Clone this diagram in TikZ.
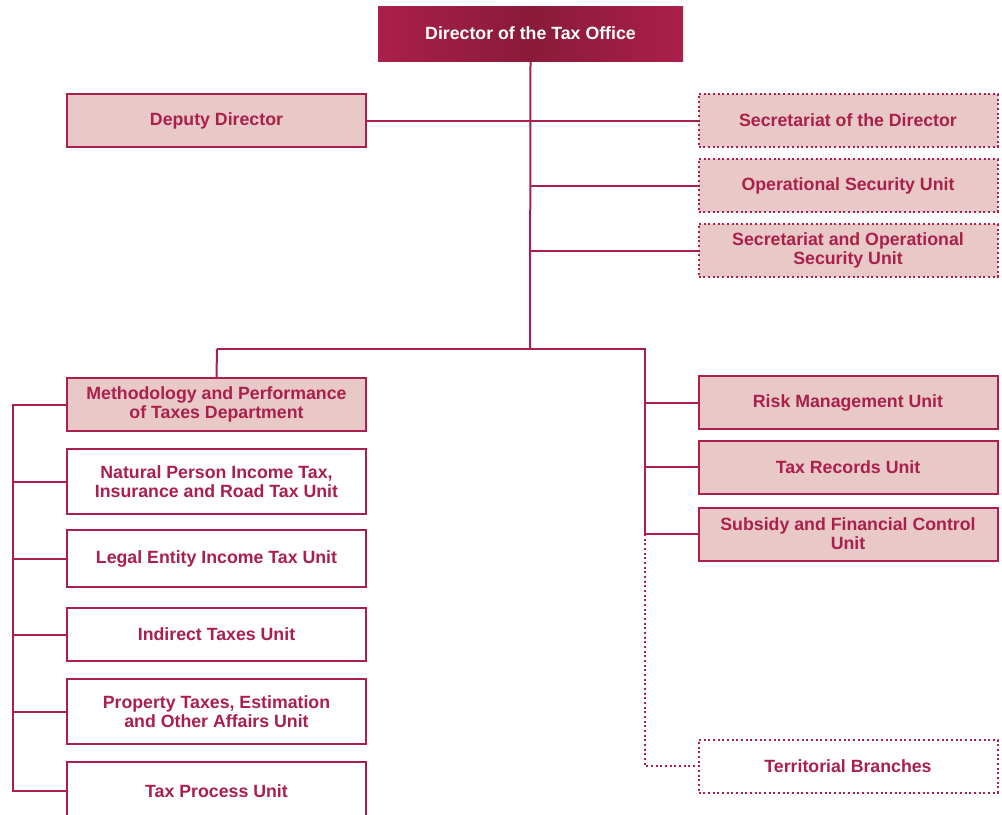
\documentclass[tikz,border=0pt]{standalone}
\usepackage{fontspec}
\setmainfont{Liberation Sans}
\definecolor{crim}{HTML}{AA1F4B}
\definecolor{crimdark}{HTML}{8A1A3A}
\definecolor{pinkfill}{HTML}{E9C9C8}
\begin{document}
\begin{tikzpicture}[x=0.75pt,y=-0.75pt,
  box/.style={draw=crim,line width=1.5pt,minimum width=299*0.75pt,minimum height=53*0.75pt,
    align=center,font=\bfseries\fontsize{13.3}{14.4}\selectfont,text=crim,inner sep=0pt},
  pinkbox/.style={box,fill=pinkfill},
  dotbox/.style={box,dotted,line width=1.5pt},
  conn/.style={draw=crim,line width=1.5pt},
  dconn/.style={draw=crim,line width=1.5pt,dotted}]
\clip (0,0) rectangle (1002,814);
\fill[white] (0,0) rectangle (1002,814);
% director
\node[minimum width=305*0.75pt,minimum height=55*0.75pt,inner sep=0pt,
  left color=crim,right color=crim,middle color=crimdark,text=white,
  font=\bfseries\fontsize{13.3}{14.4}\selectfont] (dir) at (530.5,33.5) {Director of the Tax Office};
\node[pinkbox] (dep) at (216.5,120.5) {Deputy Director};
\node[dotbox,fill=pinkfill] (sec) at (848,120.5) {Secretariat of the Director};
\node[dotbox,fill=pinkfill] (ops) at (848,185.5) {Operational Security Unit};
\node[dotbox,fill=pinkfill] (sos) at (848,250.5) {Secretariat and Operational\\Security Unit};
\node[pinkbox] (meth) at (216.5,404.5) {Methodology and Performance\\of Taxes Department};
\node[box,minimum height=65*0.75pt] (nat) at (216.5,481.5) {Natural Person Income Tax,\\Insurance and Road Tax Unit};
\node[box,minimum height=57*0.75pt] (leg) at (216.5,558.5) {Legal Entity Income Tax Unit};
\node[box] (ind) at (216.5,634.5) {Indirect Taxes Unit};
\node[box,minimum height=65*0.75pt] (prop) at (216.5,711.5) {Property Taxes, Estimation\\and Other Affairs Unit};
\node[box,minimum height=58*0.75pt] (proc) at (216.5,791) {Tax Process Unit};
\node[pinkbox] (risk) at (848,402.5) {Risk Management Unit};
\node[pinkbox] (rec) at (848,467) {Tax Records Unit};
\node[pinkbox] (sub) at (848,534) {Subsidy and Financial Control\\Unit};
\node[dotbox] (ter) at (848,766) {Territorial Branches};
% coordinates
\coordinate (hub) at (530,349);
\coordinate (lt) at (217,349);
\coordinate (rt) at (645,349);
\coordinate (lx) at (13,405);
\coordinate (rx) at (645,0);
% connectors
\draw[conn] (dir.south) -- (hub);
\draw[conn] (dep.east) -- (sec.west);
\draw[conn] (ops.west) -- (ops.west -| hub);
\draw[conn] (sos.west) -- (sos.west -| hub);
\draw[conn] (lt) -- (rt) -- (sub.west -| rx) -- (sub.west);
\draw[conn] (lt) -- (meth.north);
\draw[conn] (meth.west) -- (meth.west -| lx) -- (proc.west -| lx) -- (proc.west);
\draw[conn] (nat.west) -- (nat.west -| lx);
\draw[conn] (leg.west) -- (leg.west -| lx);
\draw[conn] (ind.west) -- (ind.west -| lx);
\draw[conn] (prop.west) -- (prop.west -| lx);
\draw[conn] (risk.west) -- (risk.west -| rx);
\draw[conn] (rec.west) -- (rec.west -| rx);
\draw[dconn] (sub.west -| rx) -- (ter.west -| rx) -- (ter.west);
\end{tikzpicture}
\end{document}
